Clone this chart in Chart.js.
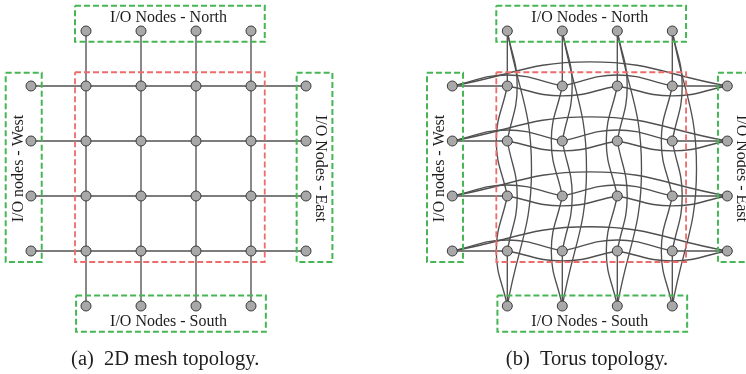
<!DOCTYPE html>
<html>
<head>
<meta charset="utf-8">
<script src="https://cdn.jsdelivr.net/npm/chart.js@4"></script>
<style>
  html, body { margin: 0; padding: 0; background: #fff; }
  canvas { display: block; }
</style>
</head>
<body>
<canvas id="topo" width="746" height="374"></canvas>
<script>
"use strict";

// lanes 0 and 5 hold the I/O nodes, 1..4 the core nodes
const coreLanes = [1, 2, 3, 4];
const ioLanes = [0, 5];
const panelShift = [0, 7.66]; // (a) mesh, (b) torus

// links along a row / column: [from lane, to lane, bend]
const meshLinks = [[0, 5, 0]];
const torusRowLinks = [[0, 1, 0], [0, 2, -0.2], [1, 3, 0.18], [2, 4, -0.2], [3, 5, 0.18], [4, 5, 0], [0, 5, -0.44]];
const torusColLinks = [[0, 1, 0], [0, 2, 0.18], [1, 3, -0.2], [2, 4, 0.18], [3, 5, -0.2], [4, 5, 0], [0, 5, 0.44]];

const boxLabels = ['I/O Nodes - North', 'I/O Nodes - South', 'I/O nodes - West', 'I/O Nodes - East'];
const captions = ['(a)  2D mesh topology.', '(b)  Torus topology.'];

// layout (grid units, 55px per lane)
const RED = '#ee6b6b', GREEN = '#45b653', LINK = '#505050';
const boxes = [
    {x0: 0.8, x1: 4.25, y0: 0.75, y1: 4.2, color: RED, width: 1.8},
    {x0: 0.8, x1: 4.25, y0: -0.46, y1: 0.195, color: GREEN, width: 2},
    {x0: 0.82, x1: 4.27, y0: 4.81, y1: 5.47, color: GREEN, width: 2},
    {x0: -0.46, x1: 0.195, y0: 0.76, y1: 4.2, color: GREEN, width: 2},
    {x0: 4.83, x1: 5.48, y0: 0.76, y1: 4.2, color: GREEN, width: 2}
];
const labelSpots = [
    {x: 2.5, y: -0.24, rot: 0},
    {x: 2.5, y: 5.28, rot: 0},
    {x: -0.23, y: 2.5, rot: -Math.PI / 2},
    {x: 5.25, y: 2.5, rot: Math.PI / 2}
];
const captionSpots = [{x: 2.44, y: 5.97}, {x: 2.45, y: 5.97}];

const linkDataset = (pts) => ({
    data: pts,
    showLine: true,
    borderColor: LINK,
    borderWidth: 1.35,
    pointRadius: 0,
    tension: 0.45,
    clip: false,
    order: 3
});

const buildLinks = (shift, rowLinks, colLinks) => {
    const sets = [];
    coreLanes.forEach(r => {
        rowLinks.forEach(([a, b, bend]) => {
            const pts = [{x: a + shift, y: r}];
            if (bend !== 0) pts.push({x: (a + b) / 2 + shift, y: r + bend});
            pts.push({x: b + shift, y: r});
            sets.push(linkDataset(pts));
        });
        colLinks.forEach(([a, b, bend]) => {
            const pts = [{x: r + shift, y: a}];
            if (bend !== 0) pts.push({x: r + bend + shift, y: (a + b) / 2});
            pts.push({x: r + shift, y: b});
            sets.push(linkDataset(pts));
        });
    });
    return sets;
};

const buildNodes = (shift) => {
    const pts = [];
    coreLanes.forEach(i => {
        coreLanes.forEach(j => pts.push({x: i + shift, y: j}));
        ioLanes.forEach(k => {
            pts.push({x: i + shift, y: k});
            pts.push({x: k + shift, y: i});
        });
    });
    return pts;
};

const buildBoxes = (shift) => boxes.map(b => ({
    data: [
        {x: b.x0 + shift, y: b.y0}, {x: b.x1 + shift, y: b.y0},
        {x: b.x1 + shift, y: b.y1}, {x: b.x0 + shift, y: b.y1},
        {x: b.x0 + shift, y: b.y0}
    ],
    showLine: true,
    borderColor: b.color,
    borderWidth: b.width,
    borderDash: [6, 3],
    pointRadius: 0,
    tension: 0,
    clip: false,
    order: 2
}));

const textPlugin = {
    id: 'diagramText',
    afterDatasetsDraw(chart) {
        const {ctx, scales: {x, y}} = chart;
        ctx.save();
        ctx.fillStyle = '#1e1e1e';
        ctx.textAlign = 'center';
        ctx.textBaseline = 'middle';
        panelShift.forEach((shift, p) => {
            ctx.font = '16px "Liberation Serif"';
            labelSpots.forEach((spot, i) => {
                ctx.save();
                ctx.translate(x.getPixelForValue(spot.x + shift), y.getPixelForValue(spot.y));
                ctx.rotate(spot.rot);
                ctx.fillText(boxLabels[i], 0, 0);
                ctx.restore();
            });
            ctx.font = '20.5px "Liberation Serif"';
            const c = captionSpots[p];
            ctx.fillText(captions[p], x.getPixelForValue(c.x + shift), y.getPixelForValue(c.y));
        });
        ctx.restore();
    }
};

const datasets = [];
panelShift.forEach((shift, p) => {
    datasets.push({
        data: buildNodes(shift),
        pointRadius: 5,
        pointBackgroundColor: '#a8a8a8',
        pointBorderColor: '#3a3a3a',
        pointBorderWidth: 1,
        showLine: false,
        clip: false,
        order: 1
    });
    datasets.push(...buildBoxes(shift));
    if (p === 0) datasets.push(...buildLinks(shift, meshLinks, meshLinks));
    else datasets.push(...buildLinks(shift, torusRowLinks, torusColLinks));
});

new Chart(document.getElementById('topo').getContext('2d'), {
    type: 'scatter',
    data: {datasets: datasets},
    options: {
        responsive: false,
        animation: false,
        devicePixelRatio: 1,
        events: [],
        layout: {padding: 0, autoPadding: false},
        plugins: {legend: {display: false}, tooltip: {enabled: false}},
        scales: {
            x: {type: 'linear', display: false, min: -31 / 55, max: 715 / 55},
            y: {type: 'linear', display: false, reverse: true, min: -31 / 55, max: 343 / 55}
        }
    },
    plugins: [textPlugin]
});
</script>
</body>
</html>
